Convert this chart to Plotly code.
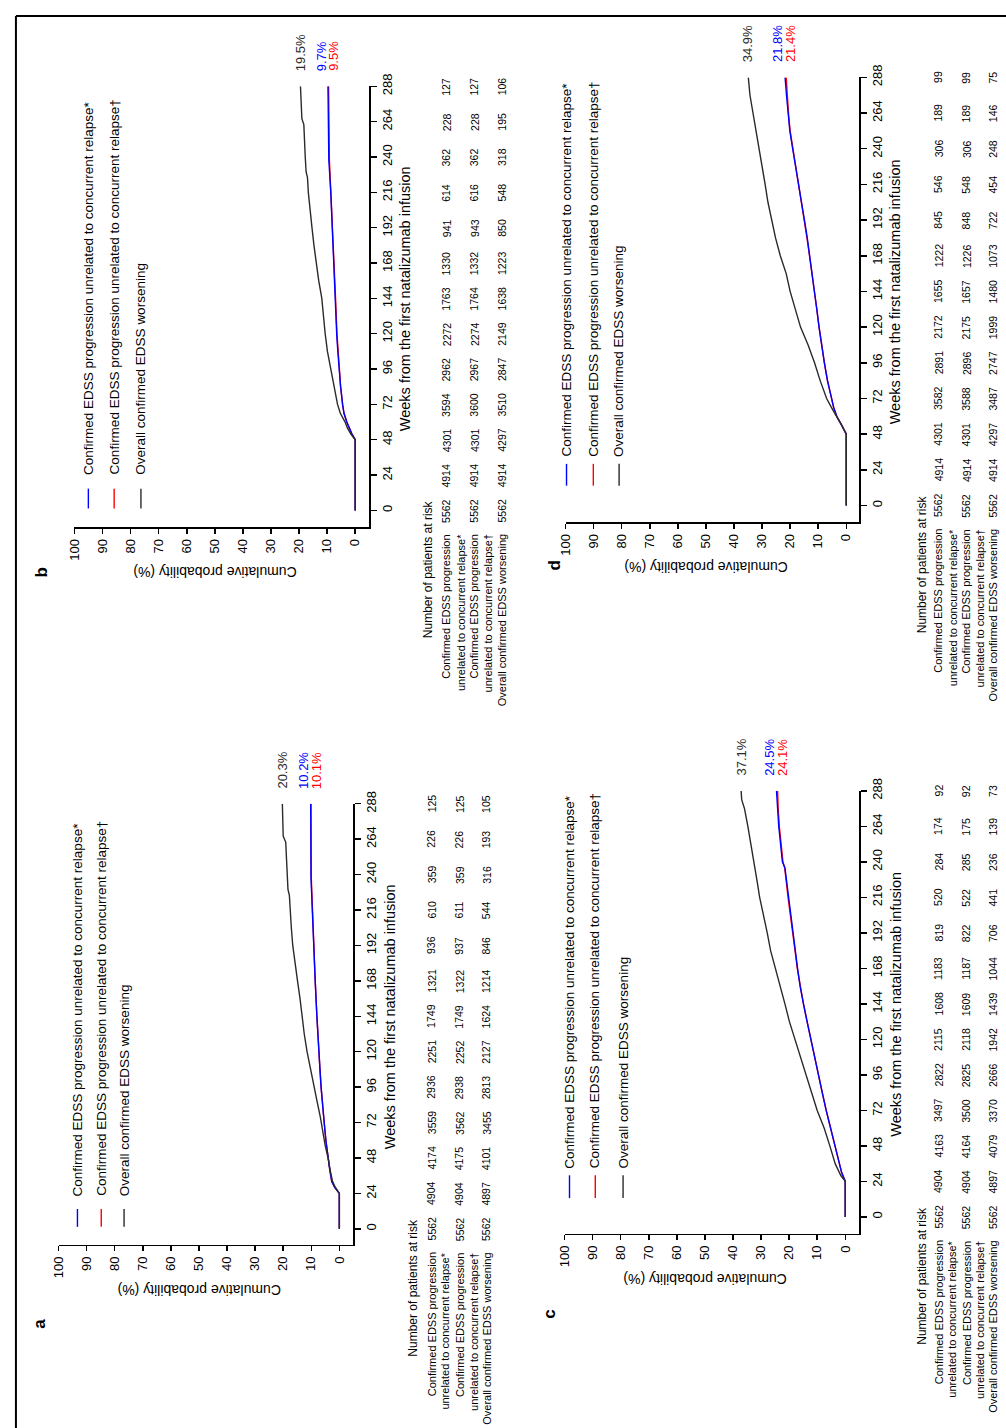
import plotly.graph_objects as go

W, H = 1006, 1428

# ---------------- data ----------------
week_ticks = [0, 24, 48, 72, 96, 120, 144, 168, 192, 216, 240, 264, 288]
prob_ticks = [0, 10, 20, 30, 40, 50, 60, 70, 80, 90, 100]

legend_labels = [
    "Confirmed EDSS progression unrelated to concurrent relapse*",
    "Confirmed EDSS progression unrelated to concurrent relapse†",
    "Overall confirmed EDSS worsening",
]
row_label_lines = [
    ["Confirmed EDSS progression", "unrelated to concurrent relapse*"],
    ["Confirmed EDSS progression", "unrelated to concurrent relapse†"],
    ["Overall confirmed EDSS worsening"],
]
risk_header = "Number of patients at risk"
x_title = "Weeks from the first natalizumab infusion"
y_title = "Cumulative probability (%)"

# Panel a
a_weeks_black = [0, 24, 28, 32, 40, 48, 56, 66, 76, 86, 96, 108, 120, 132, 144, 156, 168, 180, 192, 204, 216, 226, 230, 244, 256, 262, 266, 276, 288]
a_black = [0, 0, 1.4, 2.4, 3.3, 4.0, 5.0, 5.8, 6.8, 7.9, 9.0, 10.2, 11.5, 12.5, 13.2, 14.0, 14.9, 15.7, 16.6, 17.1, 17.5, 17.8, 18.3, 18.6, 18.9, 19.1, 20.0, 20.1, 20.3]
a_weeks_blue = [0, 24, 28, 32, 40, 48, 60, 72, 84, 96, 108, 120, 144, 168, 192, 216, 238, 288]
a_blue = [0, 0, 1.6, 2.7, 3.4, 4.0, 4.8, 5.4, 6.0, 6.5, 6.9, 7.3, 8.0, 8.6, 9.1, 9.6, 10.1, 10.2]
a_red = [0, 0, 1.6, 2.7, 3.4, 4.0, 4.8, 5.4, 6.0, 6.5, 6.9, 7.3, 8.0, 8.6, 9.1, 9.5, 10.0, 10.1]
a_final = {"black": "20.3%", "blue": "10.2%", "red": "10.1%"}
a_risk = [
    [5562, 4904, 4174, 3559, 2936, 2251, 1749, 1321, 936, 610, 359, 226, 125],
    [5562, 4904, 4175, 3562, 2938, 2252, 1749, 1322, 937, 611, 359, 226, 125],
    [5562, 4897, 4101, 3455, 2813, 2127, 1624, 1214, 846, 544, 316, 193, 105],
]

# Panel b
b_weeks_black = [0, 48, 52, 56, 60, 66, 72, 84, 96, 108, 120, 132, 144, 156, 168, 180, 192, 204, 216, 226, 230, 240, 252, 262, 266, 276, 288]
b_black = [0, 0, 1.6, 2.8, 3.6, 5.3, 6.3, 7.5, 8.7, 9.9, 10.7, 11.3, 11.9, 13.0, 13.9, 14.7, 15.4, 16.1, 16.7, 17.0, 17.5, 17.8, 18.1, 18.3, 19.0, 19.2, 19.5]
b_weeks_blue = [0, 48, 52, 56, 60, 66, 72, 84, 96, 108, 120, 144, 168, 192, 216, 238, 288]
b_blue = [0, 0, 1.2, 2.2, 3.0, 4.0, 4.5, 5.2, 5.8, 6.2, 6.6, 7.1, 7.6, 8.1, 8.7, 9.4, 9.7]
b_red = [0, 0, 1.2, 2.2, 3.0, 4.0, 4.5, 5.2, 5.7, 6.1, 6.5, 7.0, 7.5, 8.0, 8.6, 9.2, 9.5]
b_final = {"black": "19.5%", "blue": "9.7%", "red": "9.5%"}
b_risk = [
    [5562, 4914, 4301, 3594, 2962, 2272, 1763, 1330, 941, 614, 362, 228, 127],
    [5562, 4914, 4301, 3600, 2967, 2274, 1764, 1332, 943, 616, 362, 228, 127],
    [5562, 4914, 4297, 3510, 2847, 2149, 1638, 1223, 850, 548, 318, 195, 106],
]

# Panel c
c_weeks_black = [0, 24, 28, 36, 48, 60, 72, 84, 96, 108, 120, 132, 144, 156, 168, 180, 192, 204, 216, 228, 240, 252, 264, 276, 282, 288]
c_black = [0, 0, 1.6, 3.6, 5.5, 7.5, 10.0, 12.0, 13.8, 16.0, 17.9, 19.9, 21.5, 23.2, 25.1, 26.6, 27.8, 29.2, 30.5, 31.5, 32.5, 33.5, 34.7, 35.9, 36.9, 37.1]
c_weeks_blue = [0, 24, 30, 36, 48, 60, 72, 84, 96, 108, 120, 132, 144, 156, 168, 180, 192, 204, 216, 228, 236, 240, 252, 264, 276, 288]
c_blue = [0, 0, 1.3, 2.1, 3.6, 5.2, 6.8, 8.2, 9.6, 11.0, 12.3, 13.6, 14.9, 16.1, 17.0, 17.8, 18.6, 19.5, 20.3, 21.0, 21.5, 22.4, 23.1, 23.7, 24.1, 24.5]
c_red = [0, 0, 1.3, 2.1, 3.6, 5.2, 6.8, 8.2, 9.6, 11.0, 12.3, 13.6, 14.9, 16.1, 17.1, 17.9, 18.8, 19.6, 20.4, 21.1, 21.6, 22.2, 22.9, 23.5, 23.9, 24.1]
c_final = {"black": "37.1%", "blue": "24.5%", "red": "24.1%"}
c_risk = [
    [5562, 4904, 4163, 3497, 2822, 2115, 1608, 1183, 819, 520, 284, 174, 92],
    [5562, 4904, 4164, 3500, 2825, 2118, 1609, 1187, 822, 522, 285, 175, 92],
    [5562, 4897, 4079, 3370, 2666, 1942, 1439, 1044, 706, 441, 236, 139, 73],
]

# Panel d
d_weeks_black = [0, 48, 54, 60, 66, 72, 84, 96, 108, 120, 132, 144, 156, 168, 180, 192, 204, 216, 228, 240, 252, 264, 276, 288]
d_black = [0, 0, 1.7, 3.6, 5.3, 7.0, 9.3, 11.3, 13.6, 16.3, 18.2, 20.0, 21.4, 23.5, 25.2, 26.5, 27.9, 28.9, 30.0, 31.1, 32.0, 33.3, 34.3, 34.9]
d_weeks_blue = [0, 48, 54, 60, 66, 72, 84, 96, 108, 120, 132, 144, 156, 168, 180, 192, 204, 216, 228, 240, 252, 264, 276, 288]
d_blue = [0, 0, 1.6, 3.4, 4.5, 5.3, 6.7, 7.8, 8.8, 9.7, 10.5, 11.3, 12.1, 13.0, 13.9, 14.9, 16.0, 16.9, 18.0, 19.1, 20.1, 20.8, 21.3, 21.8]
d_red = [0, 0, 1.6, 3.4, 4.5, 5.3, 6.7, 7.8, 8.8, 9.7, 10.5, 11.3, 12.2, 13.1, 14.0, 15.0, 16.1, 17.0, 18.1, 19.2, 20.0, 20.6, 21.0, 21.4]
d_final = {"black": "34.9%", "blue": "21.8%", "red": "21.4%"}
d_risk = [
    [5562, 4914, 4301, 3582, 2891, 2172, 1655, 1222, 845, 546, 306, 189, 99],
    [5562, 4914, 4301, 3588, 2896, 2175, 1657, 1226, 848, 548, 306, 189, 99],
    [5562, 4914, 4297, 3487, 2747, 1999, 1480, 1073, 722, 454, 248, 146, 75],
]

# ---------------- layout (pixel geometry of the rotated page) ----------------
FONT = "Liberation Sans, Arial, sans-serif"
COLORS = {"blue": "#0000ff", "red": "#ff0000", "black": "#2a2a2a"}

panels = [
    dict(name="a", n=1, weeks={"blue": a_weeks_blue, "red": a_weeks_blue, "black": a_weeks_black},
         vals={"blue": a_blue, "red": a_red, "black": a_black}, final=a_final, risk=a_risk,
         g=dict(p0=334, p100=51, ax=348, w0=1227, w288=798, ay=1243, leg_x=[70, 94, 117], leg_y=(1207, 1225), leg_ty=1196,
                hdr=408, rows=[427, 455, 482], lab=(32, 1323))),
    dict(name="b", n=2, weeks={"blue": b_weeks_blue, "red": b_weeks_blue, "black": b_weeks_black},
         vals={"blue": b_blue, "red": b_red, "black": b_black}, final=b_final, risk=b_risk,
         g=dict(p0=350, p100=67, ax=364, w0=502, w288=74, ay=519, leg_x=[81, 107, 134], leg_y=(480, 500), leg_ty=468,
                hdr=423, rows=[442, 470, 498], lab=(34, 565))),
    dict(name="c", n=3, weeks={"blue": c_weeks_blue, "red": c_weeks_blue, "black": c_weeks_black},
         vals={"blue": c_blue, "red": c_red, "black": c_black}, final=c_final, risk=c_risk,
         g=dict(p0=844, p100=561, ax=858, w0=1215, w288=785, ay=1232, leg_x=[566, 592, 620], leg_y=(1173, 1196), leg_ty=1168,
                hdr=921, rows=[938, 966, 993], lab=(545, 1313))),
    dict(name="d", n=4, weeks={"blue": d_weeks_blue, "red": d_weeks_blue, "black": d_weeks_black},
         vals={"blue": d_blue, "red": d_red, "black": d_black}, final=d_final, risk=d_risk,
         g=dict(p0=845, p100=562, ax=858, w0=497, w288=65, ay=514, leg_x=[563, 590, 616], leg_y=(455, 477), leg_ty=450,
                hdr=921, rows=[938, 966, 993], lab=(551, 558))),
]


def px(x):
    return x / W


def py(y):
    return 1 - y / H


fig = go.Figure()
annotations = []
shapes = []
layout_axes = {}

for p in panels:
    g = p["g"]
    n = p["n"]
    xa = "x" if n == 1 else f"x{n}"
    ya = "y" if n == 1 else f"y{n}"
    xkey = "xaxis" if n == 1 else f"xaxis{n}"
    ykey = "yaxis" if n == 1 else f"yaxis{n}"

    ppp = (g["p0"] - g["p100"]) / 100.0          # pixels per percent
    ppw = (g["w0"] - g["w288"]) / 288.0          # pixels per week
    xr = [100, -(g["ax"] - g["p0"]) / ppp]
    yr = [-(g["ay"] - g["w0"]) / ppw, 288]

    layout_axes[xkey] = dict(
        domain=[px(g["p100"]), px(g["ax"])], range=xr, anchor=ya, side="bottom",
        showline=True, linecolor="black", linewidth=1.6, ticks="outside", ticklen=5, tickwidth=1.5,
        tickcolor="black", tickvals=prob_ticks, tickangle=-90, showgrid=False, zeroline=False,
        tickfont=dict(family=FONT, size=13, color="black"), fixedrange=True,
    )
    layout_axes[ykey] = dict(
        domain=[py(g["ay"]), py(g["w288"])], range=yr, anchor=xa, side="right",
        showline=True, linecolor="black", linewidth=1.6, ticks="outside", ticklen=6, tickwidth=1.5,
        tickcolor="black", tickvals=week_ticks, tickangle=-90, showgrid=False, zeroline=False,
        tickfont=dict(family=FONT, size=13, color="black"), fixedrange=True,
    )

    # curves: red first, blue over it, black
    for col in ["red", "blue", "black"]:
        fig.add_trace(go.Scatter(
            x=p["vals"][col], y=p["weeks"][col], mode="lines", xaxis=xa, yaxis=ya,
            line=dict(color=COLORS[col], width=1.4), showlegend=False, hoverinfo="skip",
        ))

    # final value labels
    for col, xs in [("black", 0), ("blue", -7), ("red", 5)]:
        annotations.append(dict(
            x=p["vals"][col][-1], y=p["weeks"][col][-1], xref=xa, yref=ya, text=p["final"][col],
            textangle=-90, xanchor="center", yanchor="bottom", xshift=xs, yshift=13, showarrow=False,
            font=dict(family=FONT, size=13, color=COLORS[col]),
        ))

    # legend (rotated)
    for i, col in enumerate(["blue", "red", "black"]):
        shapes.append(dict(type="line", xref="paper", yref="paper",
                           x0=px(g["leg_x"][i]), x1=px(g["leg_x"][i]),
                           y0=py(g["leg_y"][0]), y1=py(g["leg_y"][1]),
                           line=dict(color=COLORS[col], width=1.4)))
        annotations.append(dict(
            x=px(g["leg_x"][i]), y=py(g["leg_ty"]), xref="paper", yref="paper", text=legend_labels[i],
            textangle=-90, xanchor="center", yanchor="bottom", showarrow=False,
            font=dict(family=FONT, size=13.5, color="black"),
        ))

    # axis titles
    annotations.append(dict(
        x=px(g["ax"] + 37), y=py((g["w0"] + g["w288"]) / 2), xref="paper", yref="paper", text=x_title,
        textangle=-90, xanchor="center", yanchor="middle", showarrow=False,
        font=dict(family=FONT, size=14.5, color="black"),
    ))
    annotations.append(dict(
        x=px((g["p0"] + g["p100"]) / 2), y=py(g["ay"] + 45), xref="paper", yref="paper", text=y_title,
        textangle=180, xanchor="center", yanchor="middle", showarrow=False,
        font=dict(family=FONT, size=14, color="black"),
    ))

    # panel letter
    annotations.append(dict(
        x=px(g["lab"][0]), y=py(g["lab"][1]), xref="paper", yref="paper", text=f"<b>{p['name']}</b>",
        textangle=-90, xanchor="center", yanchor="middle", showarrow=False,
        font=dict(family=FONT, size=17, color="black"),
    ))

    # number at risk table
    annotations.append(dict(
        x=px(g["hdr"]), y=py(g["w0"] - 12), xref="paper", yref="paper", text=risk_header,
        textangle=-90, xanchor="center", yanchor="top", showarrow=False,
        font=dict(family=FONT, size=12, color="black"),
    ))
    for r in range(3):
        rx = g["rows"][r]
        for li, line in enumerate(row_label_lines[r]):
            annotations.append(dict(
                x=px(rx + 14 * li), y=py(g["w0"] + 22), xref="paper", yref="paper", text=line,
                textangle=-90, xanchor="center", yanchor="top", showarrow=False,
                font=dict(family=FONT, size=11, color="black"),
            ))
        for wk, val in zip(week_ticks, p["risk"][r]):
            annotations.append(dict(
                x=px(rx), y=wk, xref="paper", yref=ya, text=str(val),
                textangle=-90, xanchor="center", yanchor="middle", showarrow=False,
                font=dict(family=FONT, size=10.5, color="black"),
            ))

# page frame
shapes.append(dict(type="line", xref="paper", yref="paper", x0=px(8), x1=px(8), y0=py(3), y1=py(1440),
                   line=dict(color="black", width=2)))
shapes.append(dict(type="line", xref="paper", yref="paper", x0=px(8), x1=px(1010), y0=py(3), y1=py(3),
                   line=dict(color="black", width=2)))

fig.update_layout(
    width=W, height=H, margin=dict(l=0, r=0, t=0, b=0),
    paper_bgcolor="white", plot_bgcolor="white", showlegend=False,
    annotations=annotations, shapes=shapes, **layout_axes,
)

fig.write_html(
    "out.html",
    config={"displayModeBar": False, "staticPlot": True},
    post_script="document.body.style.margin='0px';document.body.style.overflow='hidden';",
)
